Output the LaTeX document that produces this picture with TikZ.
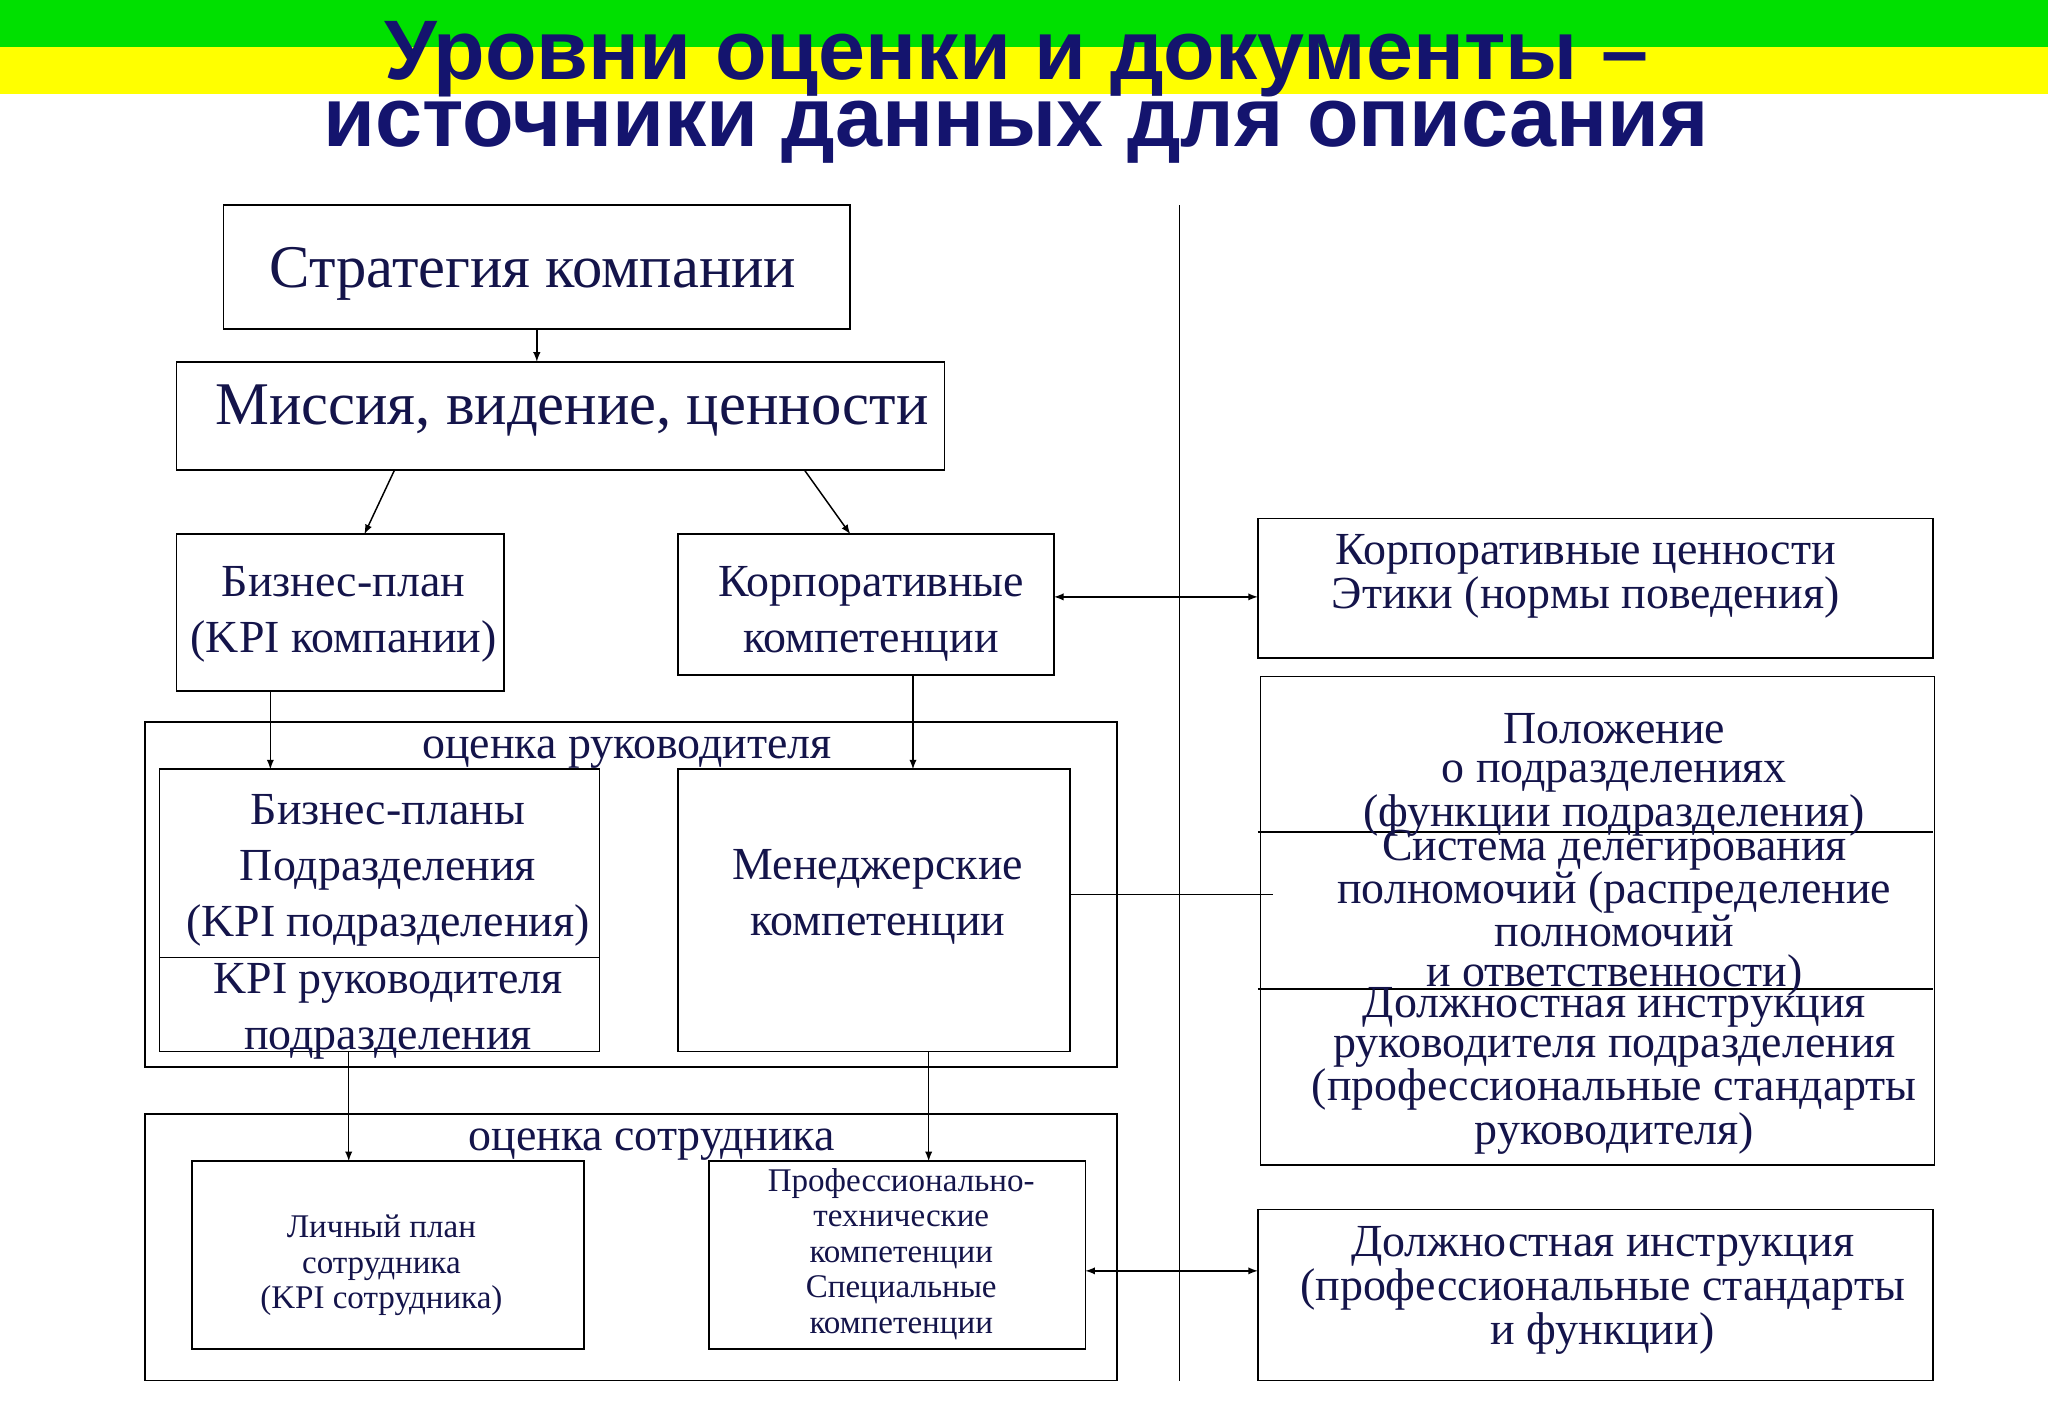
\documentclass[tikz,border=0pt]{standalone}
\usepackage{fontspec}
\setmainfont{Liberation Serif}
\newfontfamily\titlefont{Liberation Sans}
\definecolor{navy}{HTML}{14146E}
\definecolor{txt}{HTML}{14144A}
\definecolor{bandg}{HTML}{00E000}
\definecolor{bandy}{HTML}{FFFF00}
\begin{document}
\begin{tikzpicture}[x=0.025cm,y=-0.025cm,
  every node/.style={text=txt},
  bx/.style={draw,line width=0.9pt},
  arr/.style={-latex,line width=0.8pt},
  darr/.style={latex-latex,line width=0.8pt},
  big/.style={font=\fontsize{33}{36}\selectfont},
  mid/.style={font=\fontsize{25}{30.5}\selectfont,align=center},
  tight/.style={font=\fontsize{25}{21.5}\selectfont,align=center},
  sml/.style={font=\fontsize{18}{19.3}\selectfont,align=center}]
\useasboundingbox (0,0) rectangle (1568,1082);
\fill[bandg] (0,0) rectangle (1568,36);
\fill[bandy] (0,36) rectangle (1568,72);
\node[font=\titlefont\bfseries\fontsize{46}{46}\selectfont,text=navy] (t1) at (778,45) {Уровни оценки и документы –};
\node[font=\titlefont\bfseries\fontsize{46}{46}\selectfont,text=navy] (t2) at (778,101) {источники данных для описания};
% boxes
\draw[bx] (171,157) rectangle (651,252); \node[big] (strat) at (408,210) {Стратегия компании};
\coordinate (stratb) at (411,252);
\draw[bx] (135,277) rectangle (723,360); \node[big] (miss) at (438,314) {Миссия, видение, ценности};
\coordinate (missl) at (302,360); \coordinate (missr) at (616,360); \coordinate (misst) at (411,277);
\draw[bx] (135,409) rectangle (386,529); \node[mid] (biz) at (263,470) {Бизнес-план\\(KPI компании)};
\coordinate (bizt) at (279,409); \coordinate (bizb) at (207,529);
\draw[bx] (519,409) rectangle (807,517); \node[mid] (korp) at (667,470) {Корпоративные\\ компетенции};
\coordinate (korpt) at (651,409); \coordinate (korpb) at (699,517); \coordinate (korpr) at (807,457);
\draw[bx] (111,553) rectangle (855,817); \node[mid] (o1) at (480,576) {оценка руководителя};
\draw[bx] (122,589) rectangle (459,805); \draw[bx] (122,733) -- (459,733);
\node[mid] (bizp) at (297,666) {Бизнес-планы\\Подразделения\\(KPI подразделения)};
\node[mid] (kpir) at (297,774) {KPI руководителя\\подразделения};
\coordinate (bizpt) at (207,589); \coordinate (bizpb) at (267,805);
\draw[bx] (519,589) rectangle (819,805); \node[mid] (men) at (672,687) {Менеджерские\\компетенции};
\coordinate (ment) at (699,589); \coordinate (menb) at (711,805); \coordinate (menr) at (819,685);
\draw[bx] (111,853) rectangle (855,1057); \node[mid] (o2) at (499,876) {оценка сотрудника};
\draw[bx] (147,889) rectangle (447,1033); \node[sml] (lich) at (292,969) {Личный план\\сотрудника\\(KPI сотрудника)};
\coordinate (licht) at (267,889);
\draw[bx] (543,889) rectangle (831,1033); \node[sml] (prof) at (690,960) {Профессионально-\\технические\\компетенции\\Специальные\\ компетенции};
\coordinate (proft) at (711,889); \coordinate (profr) at (831,973);
% right
\draw[line width=0.9pt] (903,157) -- (903,1057);
\draw[bx] (963,397) rectangle (1480,504); \node[mid,font=\fontsize{25}{24}\selectfont] (r1) at (1214,441) {Корпоративные ценности\\Этики (нормы поведения)};
\coordinate (r1l) at (963,457);
\draw[bx] (965,518) rectangle (1481,892);
\draw[bx] (963,637) -- (1480,637); \draw[bx] (963,757) -- (1480,757);
\node[tight] (r2a) at (1236,593) {Положение\\о подразделениях\\(функции подразделения)};
\node[tight] (r2b) at (1236,699) {Система делегирования\\полномочий (распределение\\полномочий\\и ответственности)};
\node[tight] (r2c) at (1236,820) {Должностная инструкция\\руководителя подразделения\\(профессиональные стандарты\\руководителя)};
\coordinate (r2l) at (975,685);
\draw[bx] (963,926) rectangle (1480,1057); \node[mid,font=\fontsize{25}{24}\selectfont] (r3) at (1227,988) {Должностная инструкция\\(профессиональные стандарты\\и функции)};
\coordinate (r3l) at (963,973);
% connectors
\draw[arr] (stratb) -- (misst);
\draw[arr] (missl) -- (bizt);
\draw[arr] (missr) -- (korpt);
\draw[arr] (bizb) -- (bizpt);
\draw[arr] (korpb) -- (ment);
\draw[arr] (bizpb) -- (licht);
\draw[arr] (menb) -- (proft);
\draw[darr] (korpr) -- (r1l);
\draw[darr] (profr) -- (r3l);
\draw[line width=0.8pt] (menr) -- (r2l);
\end{tikzpicture}
\end{document}
